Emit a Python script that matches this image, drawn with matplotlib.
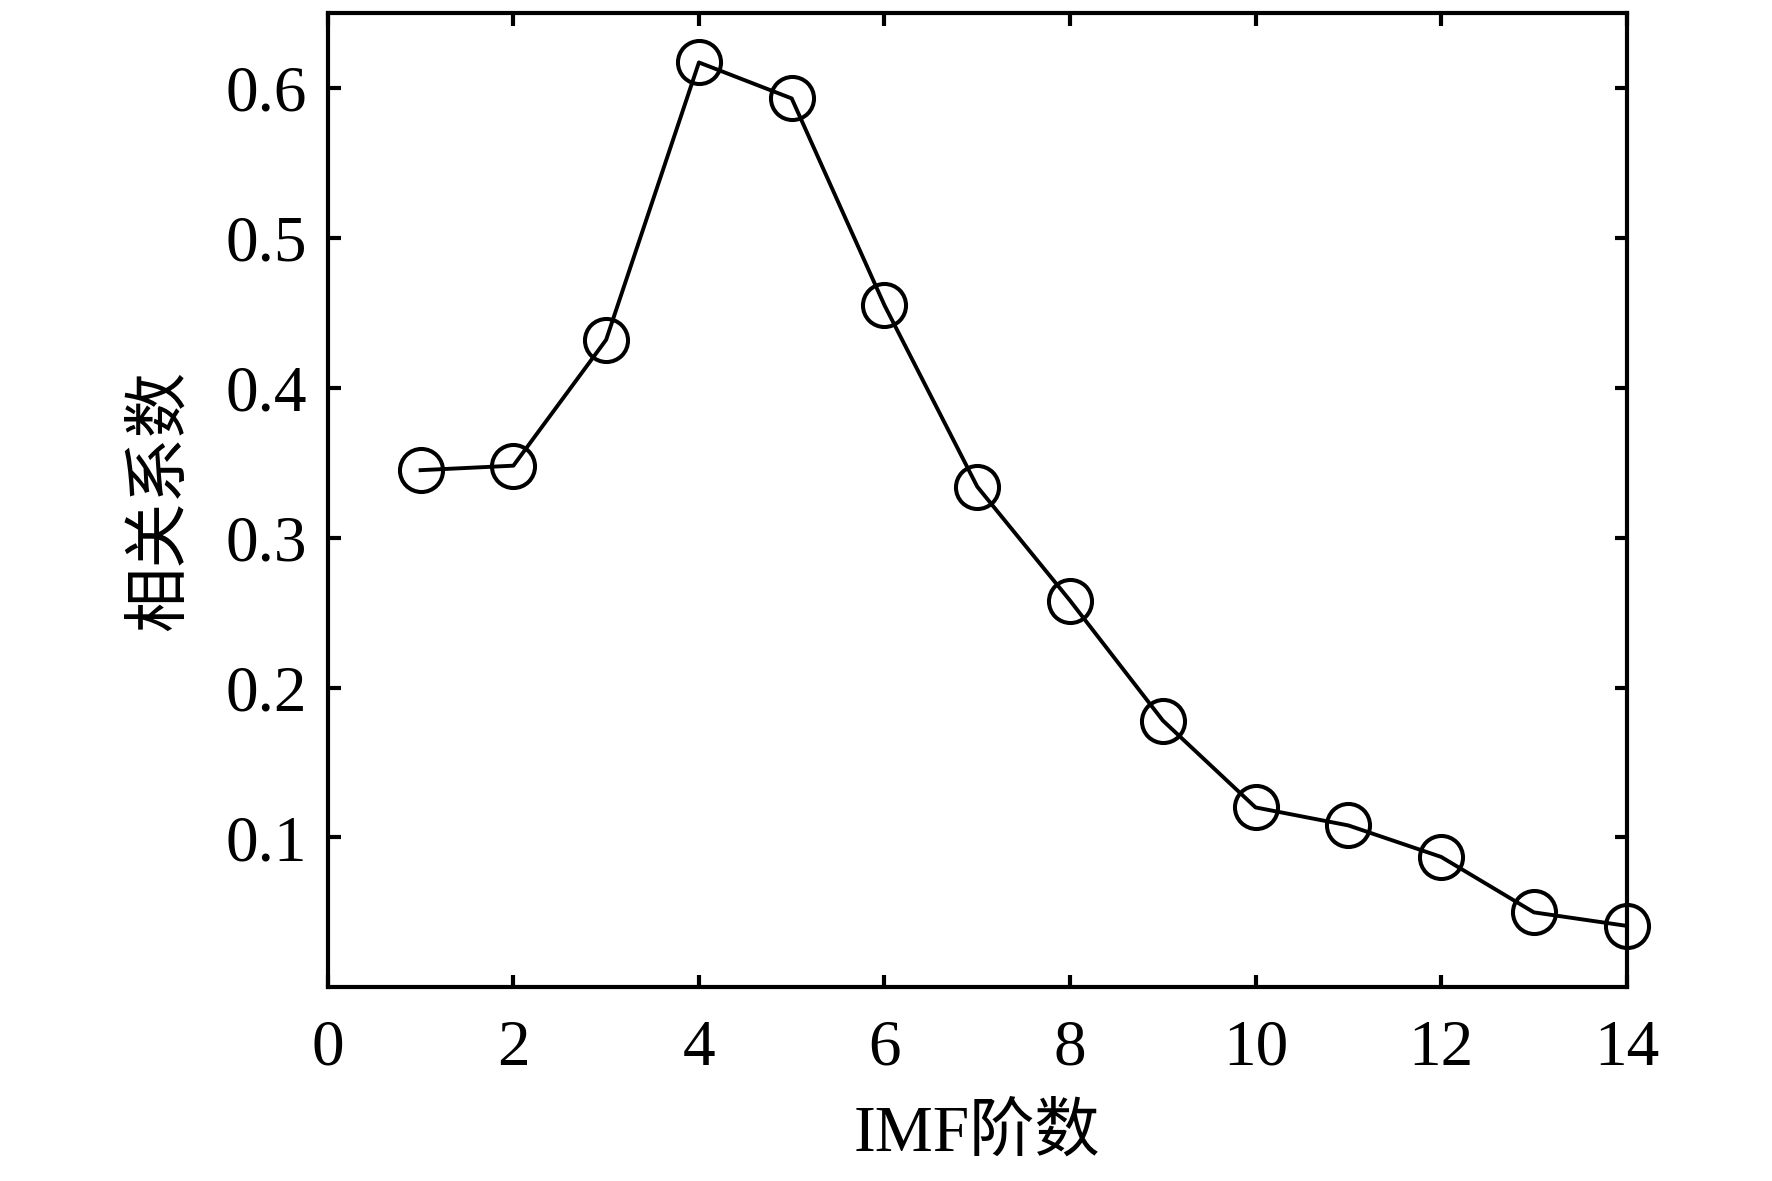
import numpy as np
import matplotlib
matplotlib.use("Agg")
import matplotlib.pyplot as plt

plt.rcParams['font.family'] = ['Liberation Serif', 'Noto Sans CJK SC']
plt.rcParams['mathtext.fontset'] = 'stix'

# 数据
imf_order = [1, 2, 3, 4, 5, 6, 7, 8, 9, 10, 11, 12, 13, 14]
corr = [0.345, 0.348, 0.432, 0.617, 0.593, 0.455, 0.334, 0.258, 0.178,
        0.120, 0.108, 0.087, 0.050, 0.041]
x_ticks = [0, 2, 4, 6, 8, 10, 12, 14]
y_ticks = [0.1, 0.2, 0.3, 0.4, 0.5, 0.6]

fig = plt.figure(figsize=(17.72, 11.81), dpi=100)
ax = fig.add_axes([0.185, 0.164, 0.733, 0.825])

ax.plot(imf_order, corr, color='black', linewidth=2.8,
        marker='o', markersize=31, markerfacecolor='none',
        markeredgecolor='black', markeredgewidth=2.9, clip_on=False)

ax.set_xlim(0, 14)
ax.set_ylim(0, 0.65)
ax.set_xticks(x_ticks)
ax.set_yticks(y_ticks)
ax.set_yticklabels([f'{v:.1f}' for v in y_ticks])

for s in ax.spines.values():
    s.set_linewidth(3.0)

ax.tick_params(direction='in', length=9, width=3.0, top=True, right=True,
               labelsize=47)
ax.tick_params(axis='x', pad=23)
ax.tick_params(axis='y', pad=15)

ax.set_xlabel('IMF阶数', fontsize=47, labelpad=18)
ax.set_ylabel('相关系数', fontsize=47, labelpad=24)

fig.savefig('out.png', dpi=100)
